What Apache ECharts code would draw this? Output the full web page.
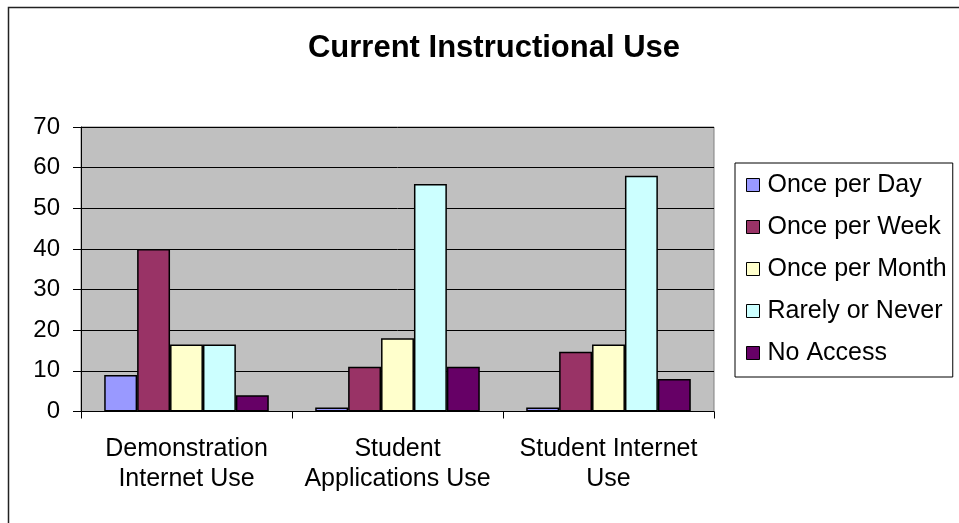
<!DOCTYPE html>
<html>
<head>
<meta charset="utf-8">
<script src="https://cdn.jsdelivr.net/npm/echarts@6/dist/echarts.min.js"></script>
<style>
  html, body { margin: 0; padding: 0; background: #fff; }
  #chart { width: 959px; height: 523px; }
</style>
</head>
<body>
<div id="chart"></div>
<script>
// Survey categories (x axis), two-line labels
const categories = ['Demonstration\nInternet Use', 'Student\nApplications Use', 'Student Internet\nUse'];

// Responses per frequency, one array per series
const oncePerDay   = [9, 1, 1];
const oncePerWeek  = [40, 11, 14.7];
const oncePerMonth = [16.5, 18, 16.5];
const rarelyNever  = [16.5, 56, 58];
const noAccess     = [4, 11, 8];

const seriesNames = ['Once per Day', 'Once per Week', 'Once per Month', 'Rarely or Never', 'No Access'];
const seriesValues = [oncePerDay, oncePerWeek, oncePerMonth, rarelyNever, noAccess];
const seriesColors = ['#9999FF', '#993366', '#FFFFCC', '#CCFFFF', '#660066'];

// Value axis ticks
const yTicks = [0, 10, 20, 30, 40, 50, 60, 70];

const FONT = 'Arial, "Liberation Sans", sans-serif';

const chart = echarts.init(document.getElementById('chart'), null, { renderer: 'canvas' });

chart.setOption({
  animation: false,
  backgroundColor: '#ffffff',
  title: {
    text: 'Current Instructional Use',
    left: 489,
    textAlign: 'center',
    top: 28,
    textStyle: { fontFamily: FONT, fontSize: 31, fontWeight: 'bold', color: '#000' }
  },
  legend: {
    orient: 'vertical',
    left: 735,
    top: 163,
    padding: [8, 6, 10, 11],
    itemGap: 14,
    itemWidth: 13,
    itemHeight: 13,
    icon: 'rect',
    borderColor: '#000',
    borderWidth: 1,
    backgroundColor: '#fff',
    textStyle: { fontFamily: FONT, fontSize: 25, lineHeight: 28, color: '#000', padding: [0, 0, 0, 3] },
    itemStyle: { borderColor: '#000', borderWidth: 1 },
    data: seriesNames
  },
  grid: {
    left: 81,
    right: 245,
    top: 127,
    bottom: 111.5,
    show: true,
    backgroundColor: '#C0C0C0',
    borderColor: '#808080',
    borderWidth: 1
  },
  xAxis: {
    type: 'category',
    data: categories,
    axisLine: { lineStyle: { color: '#000', width: 1 } },
    axisTick: { show: true, alignWithLabel: false, length: 7, lineStyle: { color: '#000' } },
    axisLabel: {
      fontFamily: FONT, fontSize: 25, color: '#000',
      lineHeight: 30, margin: 23, interval: 0
    },
    splitLine: { show: false }
  },
  yAxis: {
    type: 'value',
    min: yTicks[0],
    max: yTicks[yTicks.length - 1],
    interval: 10,
    axisLine: { show: true, lineStyle: { color: '#000', width: 1 } },
    axisTick: { show: true, length: 8, inside: false, lineStyle: { color: '#000' } },
    axisLabel: { fontFamily: FONT, fontSize: 24, color: '#000', margin: 21 },
    splitLine: { show: true, lineStyle: { color: '#000', width: 1 } }
  },
  series: seriesNames.map((name, i) => ({
    name,
    type: 'bar',
    data: seriesValues[i],
    barGap: '0%',
    barCategoryGap: '22%',
    itemStyle: { color: seriesColors[i], borderColor: '#000', borderWidth: 1.5 }
  })),
  graphic: [
    {
      type: 'polyline',
      shape: { points: [[8.5, 523], [8.5, 7.5], [959, 7.5]] },
      style: { stroke: '#222', lineWidth: 1.5, fill: null },
      silent: true
    }
  ]
});
</script>
</body>
</html>
